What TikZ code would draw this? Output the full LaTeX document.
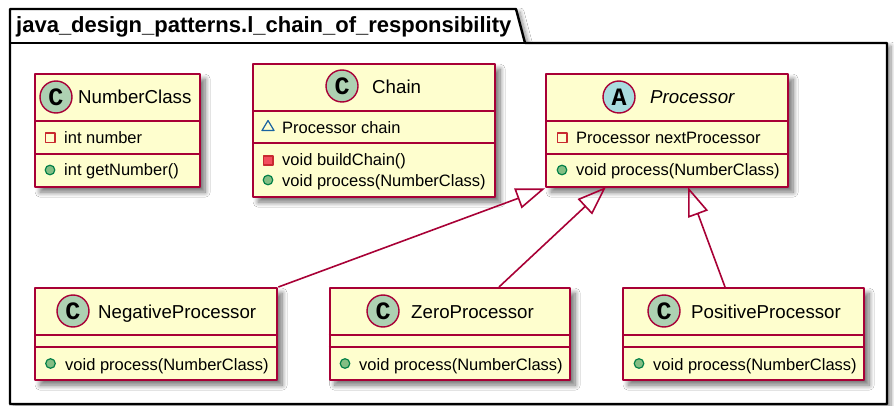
\documentclass[tikz,border=0pt]{standalone}
\usepackage{fontspec}
\setmainfont{Liberation Sans}
\newfontfamily\iconfont{Liberation Mono}
\usetikzlibrary{arrows.meta,shadows.blur}
\definecolor{umlred}{HTML}{A80036}
\definecolor{umlfill}{HTML}{FEFECE}
\definecolor{spotC}{HTML}{ADD1B2}
\definecolor{spotA}{HTML}{A9DCDF}
\definecolor{privred}{HTML}{C82930}
\definecolor{privfill}{HTML}{F24D5C}
\definecolor{pubgreen}{HTML}{038048}
\definecolor{pubfill}{HTML}{84BE84}
\definecolor{pkgblue}{HTML}{1963A0}
\begin{document}
\begin{tikzpicture}[x=1pt,y=-1pt,line join=round,
	umlbox/.style={draw=umlred,fill=umlfill,line width=2.4pt,inner sep=0pt,anchor=north west,blur shadow={shadow xshift=5pt,shadow yshift=-5pt,shadow blur radius=5pt,shadow blur steps=10,shadow opacity=55}},
	divider/.style={draw=umlred,line width=1.8pt},
	inherit/.style={draw=umlred,line width=1.6pt,-{Triangle[open,length=29pt,width=21pt]}},
	spot/.style={circle,draw=umlred,line width=1.4pt,inner sep=0pt,minimum size=32pt,font=\fontsize{25}{25}\iconfont\bfseries},
	title/.style={anchor=base west,inner sep=0pt,font=\fontsize{18.7}{18.7}\selectfont},
	member/.style={anchor=base west,inner sep=0pt,font=\fontsize{16.5}{16.5}\selectfont},
	privopen/.style={draw=privred,line width=1.2pt},
	privdot/.style={draw=privred,fill=privfill,line width=1.2pt},
	pubdot/.style={draw=pubgreen,fill=pubfill,line width=1.2pt},
	pkgtri/.style={draw=pkgblue,line width=1.2pt}]
	\useasboundingbox (0,0) rectangle (894,406);
	\fill[white] (0,0) rectangle (894,406);
	% package frame
	\draw[line width=2.4pt,fill=white,blur shadow={shadow xshift=4pt,shadow yshift=-3pt,shadow blur radius=4pt,shadow blur steps=8,shadow opacity=45}] (10,9) -- (516,9) -- (525,43) -- (887,43) -- (887,404) -- (10,404) -- cycle;
	\draw[line width=2.4pt] (10,43) -- (525,43);
	\node[anchor=base west,inner sep=0pt,font=\fontsize{22}{22}\selectfont\bfseries] (pkgname) at (16,33) {java\_design\_patterns.l\_chain\_of\_responsibility};
	% boxes
	\path
	(34,73) node[umlbox,minimum width=165pt,minimum height=113pt] (number) {}
	(252,63) node[umlbox,minimum width=242pt,minimum height=133pt] (chain) {}
	(545,73) node[umlbox,minimum width=242pt,minimum height=113pt] (processor) {}
	(34,287) node[umlbox,minimum width=242pt,minimum height=92pt] (negative) {}
	(328.5,287) node[umlbox,minimum width=240.5pt,minimum height=92pt] (zero) {}
	(622,287) node[umlbox,minimum width=241pt,minimum height=92pt] (positive) {};
	% compartments
	\draw[divider] (34,121) -- (199,121) (34,154) -- (199,154);
	\draw[divider] (252,111) -- (494,111) (252,143) -- (494,143);
	\draw[divider] (545,121) -- (787,121) (545,154) -- (787,154);
	\draw[divider] (34,335) -- (276,335) (34,347) -- (276,347);
	\draw[divider] (328.5,335) -- (569,335) (328.5,347) -- (569,347);
	\draw[divider] (622,335) -- (863,335) (622,347) -- (863,347);
	% NumberClass
	\node[spot,fill=spotC] (numberspot) at (56,97) {C};
	\node[title] (numbername) at (78,104) {NumberClass};
	\draw[privopen] (45.5,133) rectangle (55,142.5);
	\node[member] (numberfield) at (64,144) {int number};
	\draw[pubdot] (50,170) circle (4.8);
	\node[member] (numbermethod) at (64,176) {int getNumber()};
	% Chain
	\node[spot,fill=spotC] (chainspot) at (342,86) {C};
	\node[title] (chainname) at (372,94) {Chain};
	\draw[pkgtri] (262,130.5) -- (268,120.5) -- (274,130.5) -- cycle;
	\node[member] (chainfield) at (282,134) {Processor chain};
	\draw[privdot] (263.5,156) rectangle (273,165);
	\node[member] (chainbuild) at (282,166) {void buildChain()};
	\draw[pubdot] (268,180) circle (4.8);
	\node[member] (chainprocess) at (282,187) {void process(NumberClass)};
	% Processor
	\node[spot,fill=spotA] (processorspot) at (619,97) {A};
	\node[title,font=\fontsize{18.7}{18.7}\selectfont\itshape] (processorname) at (650,104) {Processor};
	\draw[privopen] (557.5,133) rectangle (567,142.5);
	\node[member] (processorfield) at (576,144) {Processor nextProcessor};
	\draw[pubdot] (562,170) circle (4.8);
	\node[member] (processormethod) at (576,176) {void process(NumberClass)};
	% subclasses
	\node[spot,fill=spotC] (negativespot) at (73,311) {C};
	\node[title] (negativename) at (98,318) {NegativeProcessor};
	\draw[pubdot] (50.5,363.5) circle (4.8);
	\node[member] (negativemethod) at (65,370) {void process(NumberClass)};
	\node[spot,fill=spotC] (zerospot) at (383,311) {C};
	\node[title] (zeroname) at (411,318) {ZeroProcessor};
	\draw[pubdot] (345,363.5) circle (4.8);
	\node[member] (zeromethod) at (359,370) {void process(NumberClass)};
	\node[spot,fill=spotC] (positivespot) at (664,311) {C};
	\node[title] (positivename) at (691,318) {PositiveProcessor};
	\draw[pubdot] (639,363.5) circle (4.8);
	\node[member] (positivemethod) at (653,370) {void process(NumberClass)};
	% inheritance
	\path (499,287) coordinate (zerotop) (606,187) coordinate (zerotip)
	(725,287) coordinate (positivetop) (688,187) coordinate (positivetip);
	\draw[inherit] (negative.north east) -- (processor.south west);
	\draw[inherit] (zerotop) -- (zerotip);
	\draw[inherit] (positivetop) -- (positivetip);
\end{tikzpicture}
\end{document}
